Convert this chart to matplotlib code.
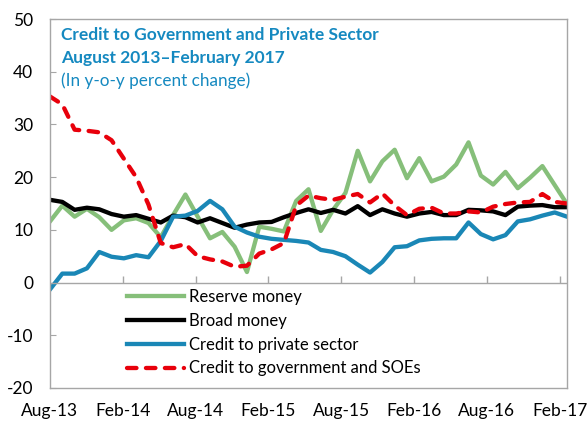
import matplotlib
matplotlib.use("Agg")
import matplotlib.pyplot as plt
import numpy as np

plt.rcParams['font.family'] = ['Lato', 'DejaVu Sans']
plt.rcParams['axes.unicode_minus'] = False

# monthly, Aug-13 .. Feb-17 (y-o-y percent change)
reserve_money = [11.6, 14.6, 12.5, 14.0, 12.4, 10.0, 11.8, 12.2, 11.3, 8.6,
                 12.8, 16.7, 12.5, 8.4, 9.6, 6.8, 2.0, 10.6, 10.2, 9.7,
                 15.5, 17.7, 9.8, 13.8, 17.0, 25.0, 19.2, 23.0, 25.2, 19.8,
                 23.6, 19.2, 20.1, 22.4, 26.6, 20.3, 18.6, 21.0, 17.9, 19.9,
                 22.1, 18.5, 14.9]
broad_money = [15.7, 15.3, 13.8, 14.2, 13.9, 13.0, 12.5, 12.8, 12.1, 11.4,
               12.7, 12.4, 11.4, 12.2, 11.3, 10.4, 11.0, 11.4, 11.5, 12.4,
               13.2, 13.9, 13.2, 13.8, 13.1, 14.5, 12.8, 13.9, 13.1, 12.5,
               13.1, 13.4, 12.8, 12.8, 13.8, 13.7, 13.5, 12.8, 14.4, 14.6,
               14.7, 14.3, 14.3]
private_credit = [-1.3, 1.7, 1.7, 2.7, 5.8, 4.9, 4.6, 5.2, 4.8, 7.9,
                  12.5, 12.7, 13.6, 15.5, 13.9, 10.6, 9.5, 8.7, 8.3, 8.1,
                  7.9, 7.6, 6.2, 5.8, 5.0, 3.4, 1.9, 3.9, 6.7, 6.9,
                  8.0, 8.3, 8.4, 8.4, 11.4, 9.2, 8.2, 9.0, 11.6, 12.0,
                  12.7, 13.3, 12.5]
govt_credit = [35.3, 33.8, 29.0, 28.8, 28.5, 27.0, 23.5, 20.0, 14.8, 7.5,
               6.7, 7.3, 5.0, 4.4, 4.0, 3.0, 3.2, 5.5, 6.3, 7.5,
               14.6, 16.5, 16.0, 15.7, 16.3, 16.8, 15.2, 16.9, 14.6, 12.8,
               14.0, 14.2, 13.1, 13.1, 13.5, 13.3, 14.4, 14.9, 15.2, 15.3,
               16.8, 15.3, 15.0]
tick_labels = ['Aug-13', 'Feb-14', 'Aug-14', 'Feb-15', 'Aug-15', 'Feb-16',
               'Aug-16', 'Feb-17']

title_blue = '#1589c0'
frame_gray = '#a6a6a6'

fig = plt.figure(figsize=(5.88, 4.26), dpi=100)
ax = fig.add_axes([50 / 588, 1 - 388 / 426, 517 / 588, 369 / 426])

months = np.arange(len(broad_money))
ax.plot(months, reserve_money, color='#86bf7a', lw=3.1, label='Reserve money')
ax.plot(months, broad_money, color='black', lw=3.1, label='Broad money')
ax.plot(months, private_credit, color='#1a87b6', lw=3.1,
        label='Credit to private sector')
ax.plot(months, govt_credit, color='#e8000b', lw=3.1, ls=(0, (2.2, 2.2)),
        dash_capstyle='round', label='Credit to government and SOEs')

ax.set_xlim(0, len(months) - 1)
ax.set_ylim(-20, 50)
ax.set_yticks(np.arange(-20, 51, 10))

# ticks sit on the zero line, labels below the frame
tick_pos = np.arange(0, len(months), 6) * 0.986
ax.set_xticks(tick_pos)
ax.set_xticklabels(tick_labels)
ax.tick_params(axis='x', length=0, pad=11, labelsize=12.5)
ax.vlines(tick_pos[1:], 0, 1.3, color=frame_gray, lw=1)
ax.axhline(0, color=frame_gray, lw=1)
ax.tick_params(axis='y', direction='in', length=4, color=frame_gray,
               labelsize=12.5, pad=12)

for s in ax.spines.values():
    s.set_color(frame_gray)
    s.set_linewidth(1)

fig.text(61 / 588, 1 - 35 / 426, 'Credit to Government and Private Sector',
         color=title_blue, fontsize=12.5, fontweight='bold', va='center')
fig.text(61 / 588, 1 - 58 / 426, 'August 2013\u2013February 2017',
         color=title_blue, fontsize=12.5, fontweight='bold', va='center')
fig.text(61 / 588, 1 - 81 / 426, '(In y-o-y percent change)',
         color=title_blue, fontsize=12.3, va='center')

ax.legend(loc='upper left', bbox_to_anchor=(127 / 588, 1 - 289 / 426),
          bbox_transform=fig.transFigure, frameon=False, fontsize=12,
          handlelength=3.4, handletextpad=0.3, labelspacing=0.47,
          borderpad=0, borderaxespad=0)

fig.savefig('out.png', dpi=100)
